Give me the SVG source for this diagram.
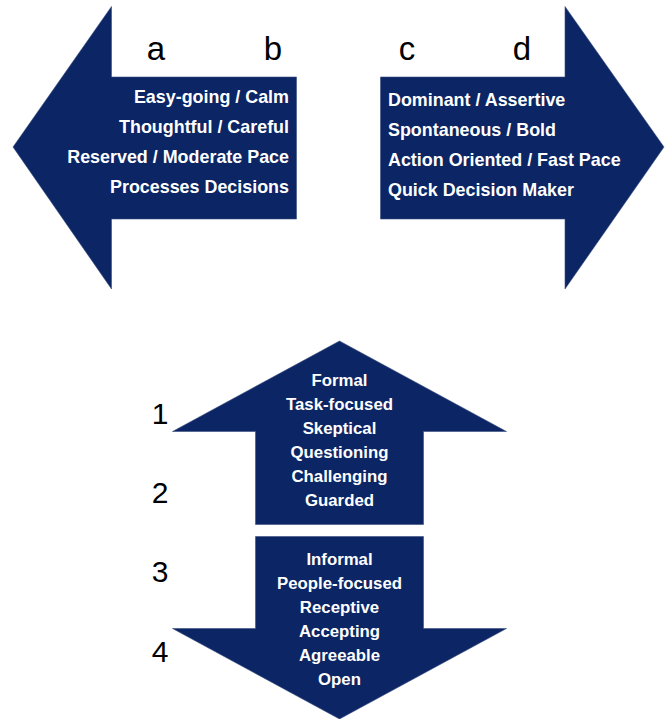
<svg xmlns="http://www.w3.org/2000/svg" width="666" height="719" viewBox="0 0 666 719">
<style>
.arrow{fill:#0b2565;stroke:#3a4f80;stroke-width:0.6}
.t{font-family:"Liberation Sans",Arial,sans-serif;font-weight:bold;fill:#ffffff}
.side{font-size:17.9px}
.vert{font-size:16.8px;text-anchor:middle}
.lbl{font-family:"Liberation Sans",Arial,sans-serif;fill:#000000;text-anchor:middle}
</style>
<rect width="666" height="719" fill="#ffffff"/>
<g id="left-arrow">
<polygon class="arrow" points="13,147 111.5,6.5 111.5,77 296.5,77 296.5,219 111.5,219 111.5,289"/>
<text class="t side" text-anchor="end" x="289" y="103">Easy-going / Calm</text>
<text class="t side" text-anchor="end" x="289" y="133">Thoughtful / Careful</text>
<text class="t side" text-anchor="end" x="289" y="163">Reserved / Moderate Pace</text>
<text class="t side" text-anchor="end" x="289" y="193">Processes Decisions</text>
</g>
<g id="right-arrow">
<polygon class="arrow" points="664,147 565,6.5 565,77 380.5,77 380.5,219 565,219 565,289"/>
<text class="t side" x="388" y="106">Dominant / Assertive</text>
<text class="t side" x="388" y="136">Spontaneous / Bold</text>
<text class="t side" x="388" y="166">Action Oriented / Fast Pace</text>
<text class="t side" x="388" y="196">Quick Decision Maker</text>
</g>
<g id="up-arrow">
<polygon class="arrow" points="339.5,341 506.5,431.5 423.5,431.5 423.5,524.5 255.5,524.5 255.5,431.5 172.5,431.5"/>
<text class="t vert" x="339.5" y="386">Formal</text>
<text class="t vert" x="339.5" y="410">Task-focused</text>
<text class="t vert" x="339.5" y="434">Skeptical</text>
<text class="t vert" x="339.5" y="458">Questioning</text>
<text class="t vert" x="339.5" y="482">Challenging</text>
<text class="t vert" x="339.5" y="506">Guarded</text>
</g>
<g id="down-arrow">
<polygon class="arrow" points="255.5,536.5 423.5,536.5 423.5,628.5 506.5,628.5 339.5,719 172.5,628.5 255.5,628.5"/>
<text class="t vert" x="339.5" y="565">Informal</text>
<text class="t vert" x="339.5" y="589">People-focused</text>
<text class="t vert" x="339.5" y="613">Receptive</text>
<text class="t vert" x="339.5" y="637">Accepting</text>
<text class="t vert" x="339.5" y="661">Agreeable</text>
<text class="t vert" x="339.5" y="685">Open</text>
</g>
<g id="labels">
<text class="lbl" font-size="33" x="156" y="59.5">a</text>
<text class="lbl" font-size="33" x="273" y="59.5">b</text>
<text class="lbl" font-size="33" x="407" y="59.5">c</text>
<text class="lbl" font-size="33" x="522" y="59.5">d</text>
<text class="lbl" font-size="30" x="160" y="424">1</text>
<text class="lbl" font-size="30" x="160" y="503">2</text>
<text class="lbl" font-size="30" x="160" y="582">3</text>
<text class="lbl" font-size="30" x="160" y="662">4</text>
</g>
<g id="connectors"></g>
</svg>
